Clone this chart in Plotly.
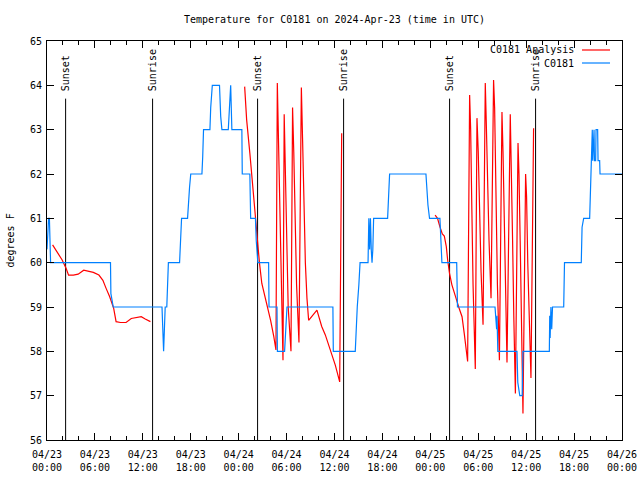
import pandas as pd
import plotly.graph_objects as go

BASE = pd.Timestamp("2024-04-23 00:00")

TITLE = "Temperature for C0181 on 2024-Apr-23 (time in UTC)"
Y_LABEL = "degrees F"
SERIES_NAMES = ["C0181 Analysis", "C0181"]

# Observations (hours since 2024-04-23 00:00 UTC, degrees F)
obs_hours = [
    0.0, 0.1, 0.2, 0.3, 0.45, 7.95, 8.0, 8.3, 14.4, 14.5, 14.6, 14.7, 14.8, 15.0, 15.2,
    16.6, 16.7, 16.85, 17.6, 17.7, 17.85, 18.0, 19.4, 19.5, 19.6, 20.4, 20.5, 20.7,
    21.6, 21.75, 21.9, 22.7, 22.85, 23.0, 23.15, 24.4, 24.45, 25.4, 25.45, 25.5,
    26.1, 26.2, 26.4, 27.75, 27.8, 28.8, 28.85, 29.75, 29.9, 30.05, 35.8, 35.85,
    38.6, 38.7, 38.85, 39.05, 39.2, 40.2, 40.3, 40.4, 40.5, 40.6, 40.7, 40.8, 40.9,
    42.65, 42.8, 42.9, 47.45, 47.55, 47.7, 47.9, 49.2, 49.3, 49.45, 51.3, 51.4,
    56.1, 56.2, 56.3, 56.35, 56.45, 58.85, 58.95, 59.2, 59.5, 59.6,
    62.9, 62.95, 63.0, 63.1, 63.2, 63.3, 63.5, 64.7, 64.8, 66.9, 67.0, 67.2,
    67.95, 68.05, 68.15, 68.28, 68.33, 68.5, 68.55, 68.7, 68.75, 68.95, 69.0,
    69.2, 69.25, 72.0,
]
obs_temp = [
    60.3, 60.8, 61.0, 61.0, 60.0, 60.0, 59.3, 59.0, 59.0, 58.5, 58.0, 58.5, 59.0, 59.0, 60.0,
    60.0, 60.5, 61.0, 61.0, 61.4, 61.7, 62.0, 62.0, 62.4, 63.0, 63.0, 63.5, 64.0,
    64.0, 63.3, 63.0, 63.0, 63.5, 64.0, 63.0, 63.0, 62.0, 62.0, 61.5, 61.0,
    61.0, 60.5, 60.0, 60.0, 59.0, 59.0, 58.0, 58.0, 58.5, 59.0, 59.0, 58.0,
    58.0, 58.5, 59.0, 59.5, 60.0, 60.0, 61.0, 60.3, 61.0, 60.3, 60.0, 60.3, 61.0,
    61.0, 61.8, 62.0, 62.0, 61.6, 61.3, 61.0, 61.0, 60.6, 60.0, 60.0, 59.0,
    59.0, 58.7, 58.5, 58.8, 58.0, 58.0, 57.3, 57.0, 57.0, 58.0,
    58.0, 58.8, 58.3, 59.0, 58.5, 59.0, 59.0, 59.0, 60.0, 60.0, 60.8, 61.0,
    61.0, 61.8, 62.3, 63.0, 62.3, 63.0, 62.3, 62.3, 63.0, 63.0, 62.3,
    62.3, 62.0, 62.0,
]

# Analysis, three separate runs
ana1_hours = [0.7, 1.25, 1.9, 2.4, 2.7, 3.3, 3.9, 4.6, 5.2, 5.8, 6.5, 7.0, 7.4, 7.85,
              8.35, 8.65, 9.2, 9.9, 10.55, 11.15, 11.8, 12.3, 12.95]
ana1_temp = [60.4, 60.25, 60.06, 59.87, 59.72, 59.72, 59.74, 59.83, 59.81, 59.78, 59.72,
             59.6, 59.42, 59.23, 58.97, 58.67, 58.65, 58.65, 58.74, 58.76, 58.78, 58.73, 58.67]

ana2_hours = [24.75, 25.0, 25.4, 25.7, 26.0, 26.3, 26.6, 26.9, 27.5, 28.0, 28.4, 28.67,
              28.84, 28.95, 29.1, 29.3, 29.55,
              29.7, 29.85, 30.0, 30.2, 30.55,
              30.75, 30.9, 31.05, 31.25, 31.55,
              31.85, 32.0, 32.15, 32.35, 32.55, 32.76,
              33.8, 34.4, 34.85, 35.5, 36.1, 36.65, 36.9]
ana2_temp = [63.97, 63.22, 62.47, 61.86, 61.11, 60.5, 60.0, 59.53, 59.08, 58.7, 58.33, 58.03,
             64.05, 63.0, 61.5, 59.8, 57.8,
             63.35, 62.0, 60.5, 59.0, 58.0,
             63.5, 62.5, 61.0, 59.5, 58.2,
             63.95, 62.8, 61.5, 60.0, 59.2, 58.7,
             58.93, 58.56, 58.37, 58.03, 57.69, 57.31, 62.92]

ana3_hours = [48.6, 48.9, 49.2, 49.5, 49.75, 50.0, 50.17, 50.4, 50.7, 51.0, 51.3, 51.55,
              51.97, 52.25, 52.5, 52.67,
              52.92, 53.05, 53.2, 53.35, 53.63,
              53.84, 54.0, 54.15, 54.35, 54.6,
              54.88, 55.0, 55.15, 55.35, 55.6,
              55.92, 56.05, 56.2, 56.4, 56.65,
              56.97, 57.1, 57.25, 57.4, 57.6,
              58.01, 58.15, 58.3, 58.45, 58.65,
              58.98, 59.1, 59.25, 59.4, 59.6,
              59.93, 60.05, 60.2, 60.4, 60.6,
              60.93]
ana3_temp = [61.07, 61.0, 60.81, 60.65, 60.6, 60.36, 60.06, 59.76, 59.5, 59.3, 59.15, 59.0,
             58.78, 58.4, 57.95, 57.77,
             63.78, 63.0, 61.2, 59.5, 57.6,
             63.26, 62.5, 61.0, 59.8, 58.6,
             64.05, 63.2, 61.8, 60.5, 59.2,
             64.12, 63.5, 61.5, 59.5, 57.8,
             63.4, 62.5, 61.0, 59.3, 57.75,
             63.35, 62.3, 60.5, 58.8, 57.05,
             62.7, 62.0, 60.5, 58.5, 56.6,
             62.0, 61.5, 60.0, 58.5, 57.4,
             63.03]

sun_hours = [2.33, 13.22, 26.37, 37.14, 50.41, 61.18]
sun_labels = ["Sunset", "Sunrise", "Sunset", "Sunrise", "Sunset", "Sunrise"]
SUN_LINE_TOP = 63.7

tick_hours = [0, 6, 12, 18, 24, 30, 36, 42, 48, 54, 60, 66, 72]
tick_labels = ["04/23<br>00:00", "04/23<br>06:00", "04/23<br>12:00", "04/23<br>18:00",
               "04/24<br>00:00", "04/24<br>06:00", "04/24<br>12:00", "04/24<br>18:00",
               "04/25<br>00:00", "04/25<br>06:00", "04/25<br>12:00", "04/25<br>18:00",
               "04/26<br>00:00"]
y_ticks = [56, 57, 58, 59, 60, 61, 62, 63, 64, 65]


def to_time(hours):
    return [BASE + pd.Timedelta(hours=h) for h in hours]


RED = "#ff0000"
BLUE = "#0080ff"
FONT = "DejaVu Sans Mono"

W, H = 640, 480
ML, MT, PW, PH = 47, 41, 575, 399

ana_x = to_time(ana1_hours) + [None] + to_time(ana2_hours) + [None] + to_time(ana3_hours)
ana_y = ana1_temp + [None] + ana2_temp + [None] + ana3_temp

fig = go.Figure()
fig.add_trace(go.Scatter(x=ana_x, y=ana_y, mode="lines", name=SERIES_NAMES[0],
                         line=dict(color=RED, width=1.2), connectgaps=False))
fig.add_trace(go.Scatter(x=to_time(obs_hours), y=obs_temp, mode="lines", name=SERIES_NAMES[1],
                         line=dict(color=BLUE, width=1.2)))

for h, lab in zip(sun_hours, sun_labels):
    t = BASE + pd.Timedelta(hours=h)
    fig.add_shape(type="line", x0=t, x1=t, y0=56, y1=SUN_LINE_TOP, xref="x", yref="y",
                  line=dict(color="black", width=1), layer="below")
    fig.add_annotation(x=t, y=SUN_LINE_TOP, xref="x", yref="y", text=lab, textangle=-90,
                       showarrow=False, xanchor="center", yanchor="bottom", yshift=5,
                       font=dict(family=FONT, size=10, color="black"))

# custom legend: text right-aligned, line sample on the right
for i, (name, col) in enumerate(zip(SERIES_NAMES, [RED, BLUE])):
    ypix = 9 + i * 13           # px below plot-area top
    yp = 1 - ypix / PH
    fig.add_annotation(x=529 / PW, y=yp, xref="paper", yref="paper", text=name,
                       showarrow=False, xanchor="right", yanchor="middle",
                       font=dict(family=FONT, size=10, color="black"))
    fig.add_shape(type="line", x0=535 / PW, x1=563 / PW, y0=yp, y1=yp,
                  xref="paper", yref="paper", line=dict(color=col, width=1.2))

fig.add_annotation(x=-37 / PW, y=0.5, xref="paper", yref="paper", text=Y_LABEL,
                   textangle=-90, showarrow=False, xanchor="center", yanchor="middle",
                   font=dict(family=FONT, size=10, color="black"))

fig.update_layout(
    width=W, height=H,
    margin=dict(l=ML, r=W - ML - PW, t=MT, b=H - MT - PH, autoexpand=False),
    paper_bgcolor="white", plot_bgcolor="white",
    showlegend=False,
    title=dict(text=TITLE, x=0.5, xref="paper", y=1 - 19 / H, yanchor="middle",
               font=dict(family=FONT, size=10, color="black")),
    font=dict(family=FONT, size=10, color="black"),
)
fig.update_xaxes(
    type="date", automargin=False,
    range=[BASE, BASE + pd.Timedelta(hours=72)],
    tickvals=to_time(tick_hours), ticktext=tick_labels,
    ticks="inside", ticklen=7, tickcolor="black", tickwidth=1,
    minor=dict(dtick=2 * 3600 * 1000, ticks="inside", ticklen=4, tickcolor="black", showgrid=False),
    showline=True, linecolor="black", linewidth=1, mirror="ticks",
    showgrid=False, zeroline=False, ticklabelstandoff=5,
    tickfont=dict(family=FONT, size=10, color="black"),
)
fig.update_yaxes(
    range=[56, 65], tickvals=y_ticks, automargin=False,
    ticks="inside", ticklen=7, tickcolor="black", tickwidth=1,
    showline=True, linecolor="black", linewidth=1, mirror="ticks",
    showgrid=False, zeroline=False, ticklabelstandoff=2,
    tickfont=dict(family=FONT, size=10, color="black"),
)

fig.write_html("out.html", config={"displayModeBar": False},
               post_script="document.body.style.margin='0';")
